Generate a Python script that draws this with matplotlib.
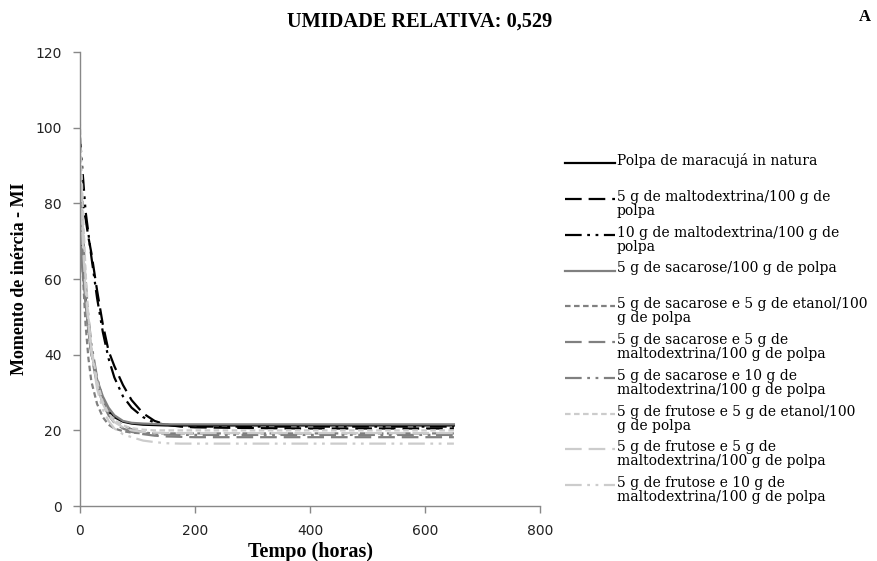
import matplotlib
matplotlib.use('Agg')
import matplotlib.pyplot as plt
from matplotlib.legend_handler import HandlerLine2D

plt.rcParams['lines.scale_dashes'] = False

# tempo (horas) and momento de inercia
tempo = [0, 5, 10, 15, 20, 30, 40, 50, 60, 75, 90, 110, 130, 150, 175, 200, 300, 400, 500, 650]

in_natura = [72, 64, 55, 47, 41, 33, 28, 25, 23.5, 22.3, 21.8, 21.5, 21.4, 21.3, 21.3, 21.3, 21.3, 21.3, 21.3, 21.3]
malto5 = [83, 80, 76, 71, 67, 57, 48, 41, 37, 32, 28, 24.5, 22.5, 21.5, 21.0, 20.8, 20.6, 20.5, 20.5, 20.5]
malto10 = [98, 88, 78, 72, 66, 55, 46, 39, 34, 29, 26, 23.5, 22.0, 21.5, 21.2, 21.0, 21.0, 21.0, 21.0, 21.0]
sac = [70, 62, 54, 47, 41, 33.5, 29, 26, 24, 22.5, 22.0, 21.8, 21.7, 21.6, 21.6, 21.6, 21.6, 21.6, 21.6, 21.6]
sac_etanol = [80, 62, 48, 39, 33, 27, 23.5, 21.5, 20.5, 19.8, 19.4, 19.2, 19.2, 19.2, 19.2, 19.2, 19.2, 19.2, 19.2, 19.2]
sac_malto5 = [75, 64, 54, 46, 40, 32, 27, 24, 22, 20.5, 19.6, 19.0, 18.6, 18.4, 18.3, 18.2, 18.2, 18.2, 18.2, 18.2]
sac_malto10 = [90, 74, 60, 50, 43, 34, 28.5, 25, 23, 21.3, 20.3, 19.5, 19.1, 18.9, 18.8, 18.8, 18.8, 18.8, 18.8, 18.8]
frut_etanol = [102, 80, 62, 50, 42, 33, 27.5, 24.5, 22.8, 21.3, 20.6, 20.2, 20.0, 20.0, 20.0, 20.0, 20.0, 20.0, 20.0, 20.0]
frut_malto5 = [85, 70, 57, 48, 41, 32, 27, 24, 22.2, 20.8, 20.0, 19.6, 19.4, 19.3, 19.3, 19.3, 19.3, 19.3, 19.3, 19.3]
frut_malto10 = [95, 75, 60, 49, 41, 31, 25.5, 22.5, 20.5, 19.0, 18.2, 17.3, 16.9, 16.6, 16.5, 16.5, 16.5, 16.5, 16.5, 16.5]

series = [in_natura, malto5, malto10, sac, sac_etanol, sac_malto5, sac_malto10,
          frut_etanol, frut_malto5, frut_malto10]
labels = ['Polpa de maracujá in natura\n ',
          '5 g de maltodextrina/100 g de\npolpa',
          '10 g de maltodextrina/100 g de\npolpa',
          '5 g de sacarose/100 g de polpa\n ',
          '5 g de sacarose e 5 g de etanol/100\ng de polpa',
          '5 g de sacarose e 5 g de\nmaltodextrina/100 g de polpa',
          '5 g de sacarose e 10 g de\nmaltodextrina/100 g de polpa',
          '5 g de frutose e 5 g de etanol/100\ng de polpa',
          '5 g de frutose e 5 g de\nmaltodextrina/100 g de polpa',
          '5 g de frutose e 10 g de\nmaltodextrina/100 g de polpa']

black = '#000000'
gray = '#808080'
light = '#cccccc'
solid = '-'
long_dash = (0, (12, 5))
dash_dot = (0, (12, 4, 2, 4, 2, 4))
short_dash = (0, (4, 2.5))
colors = [black, black, black, gray, gray, gray, gray, light, light, light]
styles = [solid, long_dash, dash_dot, solid, short_dash, long_dash, dash_dot,
          short_dash, long_dash, dash_dot]


class UpHandler(HandlerLine2D):
    # put the sample next to the first line of a two line label
    def create_artists(self, legend, orig_handle, xdescent, ydescent,
                       width, height, fontsize, trans):
        return super().create_artists(legend, orig_handle, xdescent, ydescent - 8.0,
                                      width, height, fontsize, trans)


fig = plt.figure(figsize=(8.77, 5.61), dpi=100)
ax = fig.add_axes([0.091, 0.098, 0.525, 0.809])

for y, lab, c, ls in zip(series, labels, colors, styles):
    ax.plot(tempo, y, color=c, linestyle=ls, linewidth=1.6, label=lab)

ax.set_xlim(0, 800)
ax.set_ylim(0, 120)
ax.set_xticks([0, 200, 400, 600, 800])
ax.set_yticks([0, 20, 40, 60, 80, 100, 120])
for s in ['top', 'right']:
    ax.spines[s].set_visible(False)
for s in ['left', 'bottom']:
    ax.spines[s].set_color('#888888')
    ax.spines[s].set_linewidth(1.0)
ax.tick_params(axis='both', color='#888888', length=5, width=1.0,
               labelsize=10, labelcolor='#222222', pad=8)
for t in ax.get_xticklabels() + ax.get_yticklabels():
    t.set_family('DejaVu Sans')

ax.set_xlabel('Tempo (horas)', family='Liberation Serif', fontweight='bold',
              fontsize=14.5, labelpad=3)
ax.set_ylabel('Momento de inércia - MI', family='Liberation Serif', fontweight='bold',
              fontsize=13, labelpad=5)

fig.text(0.479, 0.961, 'UMIDADE RELATIVA: 0,529', family='Liberation Serif',
         fontweight='bold', fontsize=14.7, ha='center', va='center')
fig.text(0.986, 0.970, 'A', family='Liberation Serif', fontweight='bold',
         fontsize=12, ha='center', va='center')

leg = ax.legend(loc='upper left', bbox_to_anchor=(0.644, 0.727),
                bbox_transform=fig.transFigure, frameon=False,
                prop={'family': 'DejaVu Serif', 'size': 10.0},
                handlelength=3.6, handletextpad=0.15, labelspacing=0.56,
                borderpad=0, borderaxespad=0,
                handler_map={plt.Line2D: UpHandler()})
for t in leg.get_texts():
    t.set_linespacing(1.0)

fig.savefig('out.png', dpi=100)
